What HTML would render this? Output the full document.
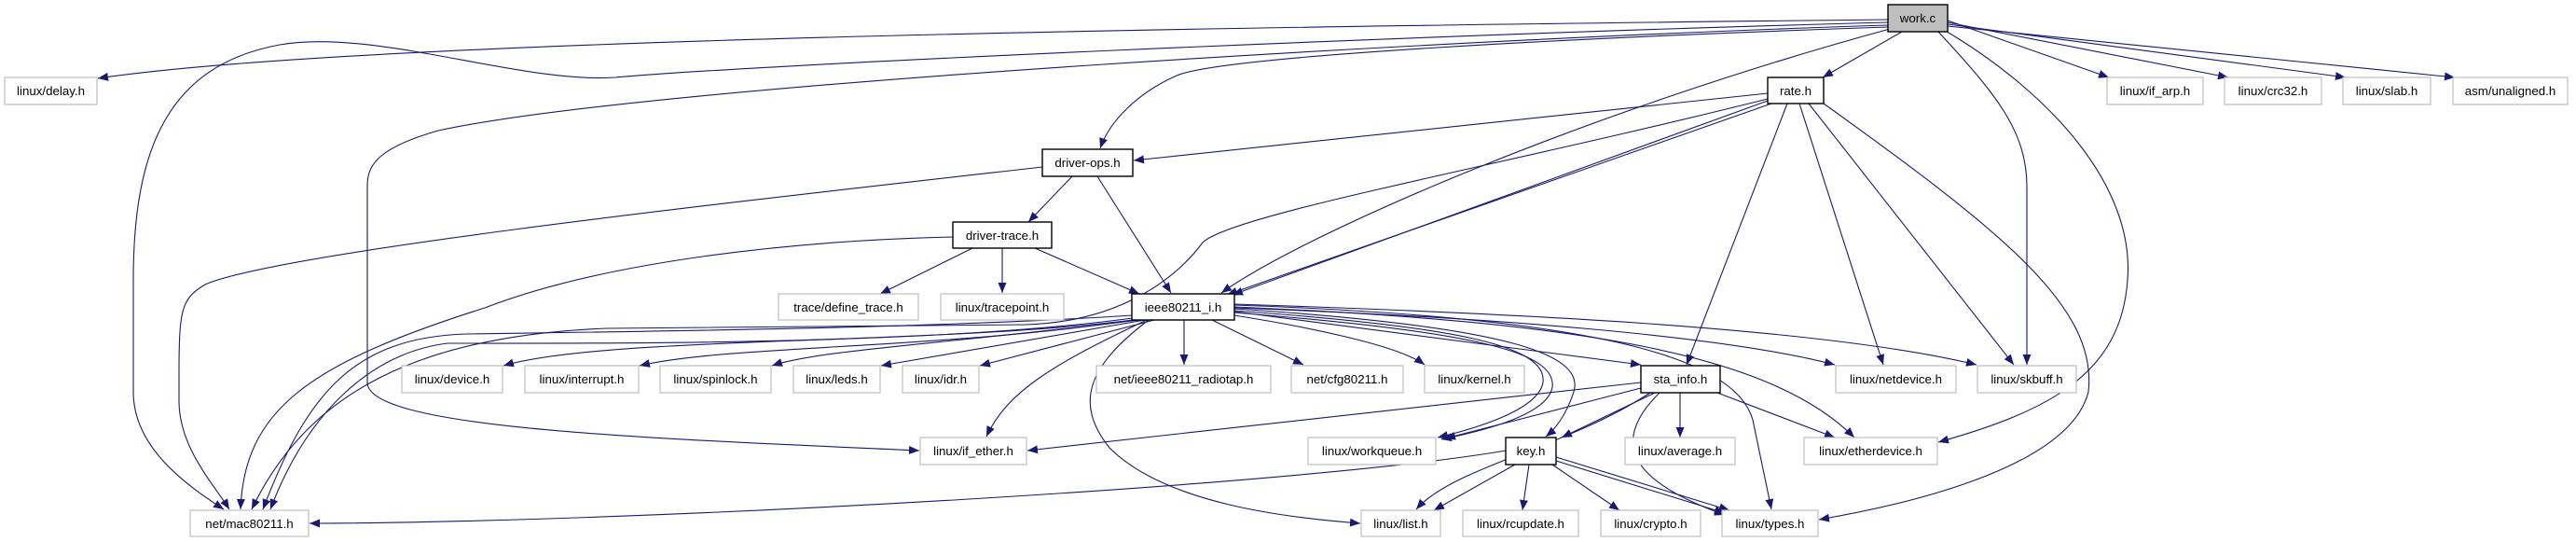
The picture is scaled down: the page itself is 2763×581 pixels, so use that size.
<!DOCTYPE html>
<html><head><meta charset="utf-8"><style>
html,body{margin:0;padding:0;background:#fff;}
svg{display:block;}
text{font-family:"Liberation Sans",Arial,sans-serif;font-size:13.3px;fill:#000;}
.e{fill:none;stroke:#191970;stroke-width:1.1;}
.n{fill:#fff;stroke:#bfbfbf;stroke-width:1.2;}
.m{fill:#fff;stroke:#000;stroke-width:1.4;}
</style></head><body>
<svg width="2763" height="581" viewBox="0 0 2763 581" xmlns="http://www.w3.org/2000/svg">
<defs>
<marker id="a" markerWidth="12" markerHeight="10" refX="11" refY="5" orient="auto" markerUnits="userSpaceOnUse">
<polygon points="0,0.5 11,5 0,9.5" fill="#191970"/>
</marker>
</defs>
<g class="e" marker-end="url(#a)">
<!-- work.c -->
<path d="M2025,21 C1400,28 400,40 105,84"/>
<path d="M2025,24 C1500,38 800,70 660,83 C560,90 400,30 300,48 C180,70 143,160 143,300 L143,420 C143,480 200,520 240,546"/>
<path d="M2025,27 C1600,40 700,90 470,140 C400,160 394,180 394,200 L394,410 C394,460 700,470 986,483"/>
<path d="M2025,29 C1700,40 1300,60 1260,82 C1220,100 1190,130 1180,159"/>
<path d="M2040,34 L1955,83"/>
<path d="M2027,31 C1700,120 1400,250 1310,314"/>
<path d="M2079,34 C2140,100 2174,140 2174,200 L2174,391"/>
<path d="M2085,32 C2200,100 2290,200 2282,300 C2275,400 2200,440 2079,474"/>
<path d="M2089,22 L2262,83"/>
<path d="M2089,24 L2390,83"/>
<path d="M2089,26 L2516,83"/>
<path d="M2089,28 L2633,83"/>
<!-- rate.h -->
<path d="M1896,100 L1216,172"/>
<path d="M1896,106 C1600,180 1320,230 1290,260 C1260,300 1200,345 1100,348 L650,352 C450,360 330,420 270,546"/>
<path d="M1896,108 L1322,316"/>
<path d="M1900,111 L1316,316"/>
<path d="M1917,111 L1809,391"/>
<path d="M1930,111 L2020,391"/>
<path d="M1940,111 L2160,391"/>
<path d="M1956,111 C2150,250 2250,330 2240,420 C2220,500 2050,540 1951,557"/>
<!-- driver-ops -->
<path d="M1150,189 L1103,238"/>
<path d="M1177,189 L1256,314"/>
<path d="M1118,179 C800,215 300,270 220,305 C195,320 192,330 192,400 L192,430 C192,480 230,520 246,546"/>
<!-- driver-trace -->
<path d="M1043,266 L944,315"/>
<path d="M1075,266 L1075,314"/>
<path d="M1110,266 L1222,315"/>
<path d="M1022,254 C850,258 650,280 520,330 C330,390 262,440 258,546"/>
<!-- ieee80211_i.h -->
<path d="M1215,343 C1000,370 650,360 540,392"/>
<path d="M1218,343 C1000,375 780,370 686,392"/>
<path d="M1222,343 C1000,370 880,375 828,392"/>
<path d="M1228,343 L945,392"/>
<path d="M1238,343 L1051,392"/>
<path d="M1270,343 L1270,391"/>
<path d="M1300,343 L1398,391"/>
<path d="M1324,338 C1400,350 1500,370 1528,391"/>
<path d="M1324,334 L1760,391"/>
<path d="M1324,330 C1600,340 1850,360 1968,391"/>
<path d="M1324,326 C1600,335 1950,350 2120,391"/>
<path d="M1324,333 C1560,350 1660,370 1655,410 C1650,440 1580,460 1542,469"/>
<path d="M1324,335 C1570,355 1670,375 1665,415 C1660,445 1590,462 1546,471"/>
<path d="M1324,331 C1620,350 1700,380 1688,420 C1680,445 1668,460 1658,468"/>
<path d="M1324,329 C1700,345 1900,380 1989,469"/>
<path d="M1324,327 C1700,340 1860,380 1880,450 L1900,546"/>
<path d="M1230,343 C1130,390 1080,420 1058,468"/>
<path d="M1232,343 C1170,390 1150,430 1190,480 C1250,540 1380,555 1459,561"/>
<path d="M1215,338 C1000,352 700,355 500,358 C380,362 330,420 282,546"/>
<path d="M1215,341 C1000,370 650,368 480,368 C400,378 330,440 290,546"/>
<!-- sta_info.h -->
<path d="M1760,410 L1102,483"/>
<path d="M1760,416 L1550,470"/>
<path d="M1775,421 L1675,469"/>
<path d="M1802,421 L1802,469"/>
<path d="M1842,421 L1968,469"/>
<path d="M1770,421 C1680,480 1560,500 1519,546"/>
<path d="M1780,421 C1720,480 1760,520 1850,552"/>
<!-- key.h -->
<path d="M1615,483 C1400,520 700,560 332,561"/>
<path d="M1625,498 L1538,547"/>
<path d="M1640,498 L1633,547"/>
<path d="M1665,498 L1737,547"/>
<path d="M1669,490 L1855,547"/>
<path d="M1669,494 L1850,550"/>
</g>
<g>
<rect x="2025" y="5" width="64" height="29" fill="#bfbfbf" stroke="#000" stroke-width="1.4"/><text x="2057" y="24" text-anchor="middle">work.c</text>
<rect class="n" x="5" y="83" width="99" height="29"/><text x="54.5" y="102" text-anchor="middle">linux/delay.h</text>
<rect class="m" x="1896" y="83" width="60" height="28"/><text x="1926" y="102" text-anchor="middle">rate.h</text>
<rect class="n" x="2260" y="83" width="103" height="29"/><text x="2311.5" y="102" text-anchor="middle">linux/if_arp.h</text>
<rect class="n" x="2386" y="83" width="104" height="29"/><text x="2438" y="102" text-anchor="middle">linux/crc32.h</text>
<rect class="n" x="2513" y="83" width="94" height="29"/><text x="2560" y="102" text-anchor="middle">linux/slab.h</text>
<rect class="n" x="2631" y="83" width="123" height="29"/><text x="2692.5" y="102" text-anchor="middle">asm/unaligned.h</text>
<rect class="m" x="1118" y="160" width="97" height="29"/><text x="1166.5" y="179" text-anchor="middle">driver-ops.h</text>
<rect class="m" x="1022" y="238" width="106" height="28"/><text x="1075" y="257" text-anchor="middle">driver-trace.h</text>
<rect class="n" x="835" y="315" width="150" height="28"/><text x="910" y="334" text-anchor="middle">trace/define_trace.h</text>
<rect class="n" x="1009" y="315" width="132" height="28"/><text x="1075" y="334" text-anchor="middle">linux/tracepoint.h</text>
<rect class="m" x="1214" y="315" width="110" height="28"/><text x="1269" y="334" text-anchor="middle">ieee80211_i.h</text>
<rect class="n" x="431" y="392" width="108" height="29"/><text x="485" y="411" text-anchor="middle">linux/device.h</text>
<rect class="n" x="563" y="392" width="122" height="29"/><text x="624" y="411" text-anchor="middle">linux/interrupt.h</text>
<rect class="n" x="708" y="392" width="119" height="29"/><text x="767.5" y="411" text-anchor="middle">linux/spinlock.h</text>
<rect class="n" x="851" y="392" width="93" height="29"/><text x="897.5" y="411" text-anchor="middle">linux/leds.h</text>
<rect class="n" x="968" y="392" width="82" height="29"/><text x="1009" y="411" text-anchor="middle">linux/idr.h</text>
<rect class="n" x="1176" y="392" width="187" height="29"/><text x="1269.5" y="411" text-anchor="middle">net/ieee80211_radiotap.h</text>
<rect class="n" x="1385" y="392" width="120" height="29"/><text x="1445" y="411" text-anchor="middle">net/cfg80211.h</text>
<rect class="n" x="1528" y="392" width="107" height="29"/><text x="1581.5" y="411" text-anchor="middle">linux/kernel.h</text>
<rect class="m" x="1760" y="392" width="85" height="29"/><text x="1802.5" y="411" text-anchor="middle">sta_info.h</text>
<rect class="n" x="1969" y="392" width="129" height="29"/><text x="2033.5" y="411" text-anchor="middle">linux/netdevice.h</text>
<rect class="n" x="2121" y="392" width="106" height="29"/><text x="2174" y="411" text-anchor="middle">linux/skbuff.h</text>
<rect class="n" x="987" y="469" width="114" height="29"/><text x="1044" y="488" text-anchor="middle">linux/if_ether.h</text>
<rect class="n" x="1403" y="469" width="137" height="29"/><text x="1471.5" y="488" text-anchor="middle">linux/workqueue.h</text>
<rect class="m" x="1615" y="469" width="54" height="29"/><text x="1642" y="488" text-anchor="middle">key.h</text>
<rect class="n" x="1743" y="469" width="118" height="29"/><text x="1802" y="488" text-anchor="middle">linux/average.h</text>
<rect class="n" x="1935" y="469" width="143" height="29"/><text x="2006.5" y="488" text-anchor="middle">linux/etherdevice.h</text>
<rect class="n" x="204" y="547" width="127" height="28"/><text x="267.5" y="566" text-anchor="middle">net/mac80211.h</text>
<rect class="n" x="1460" y="547" width="85" height="28"/><text x="1502.5" y="566" text-anchor="middle">linux/list.h</text>
<rect class="n" x="1569" y="547" width="124" height="28"/><text x="1631" y="566" text-anchor="middle">linux/rcupdate.h</text>
<rect class="n" x="1717" y="547" width="107" height="28"/><text x="1770.5" y="566" text-anchor="middle">linux/crypto.h</text>
<rect class="n" x="1847" y="547" width="103" height="28"/><text x="1898.5" y="566" text-anchor="middle">linux/types.h</text>
</g>
</svg>
</body></html>
